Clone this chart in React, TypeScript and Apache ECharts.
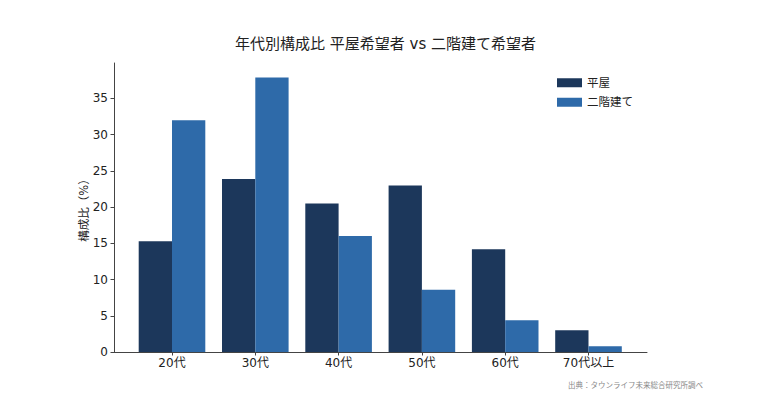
import React, { useEffect, useRef } from "react";
import * as echarts from "echarts";

const categories = ["20代", "30代", "40代", "50代", "60代", "70代以上"];
const hiraya = [15.3, 23.9, 20.5, 23.0, 14.2, 3.0];
const nikai = [32.0, 37.9, 16.0, 8.6, 4.4, 0.8];
const seriesNames = ["平屋", "二階建て"];
const titleText = "年代別構成比 平屋希望者 vs 二階建て希望者";
const yName = "構成比（%）";
const sourceText = "出典：タウンライフ未来総合研究所調べ";

const FONT = "DejaVu Sans, 'Noto Sans CJK JP', sans-serif";
const C1 = "#1c375b";
const C2 = "#2e6aa9";

export default function App() {
  const ref = useRef<HTMLDivElement>(null);
  useEffect(() => {
    const chart = echarts.init(ref.current!, null, { renderer: "svg" });
    const yMax = 39.9;
    chart.setOption({
      animation: false,
      backgroundColor: "#ffffff",
      textStyle: { fontFamily: FONT },
      title: [
        {
          text: titleText,
          left: 380.5,
          textAlign: "center",
          top: 31,
          textStyle: { fontFamily: FONT, fontSize: 15, fontWeight: "normal", color: "#222" },
        },
        {
          text: sourceText,
          left: 563,
          top: 377,
          textStyle: { fontFamily: FONT, fontSize: 7.5, fontWeight: "normal", color: "#888" },
        },
      ],
      legend: {
        orient: "vertical",
        left: 552,
        top: 72,
        itemWidth: 25,
        itemHeight: 9,
        itemGap: 8,
        icon: "rect",
        textStyle: { fontFamily: FONT, fontSize: 11.5, color: "#222", padding: [0, 0, 0, 0] },
        data: seriesNames,
      },
      grid: [
        { left: 114, right: 135, top: 63, bottom: 50, containLabel: false },
        { left: 130.35, right: 151.85, top: 63, bottom: 50, containLabel: false },
      ],
      xAxis: [
        {
          gridIndex: 0,
          type: "value",
          min: 0,
          max: 1,
          axisLine: { show: true, onZero: false, lineStyle: { color: "#444", width: 1 } },
          axisTick: { show: false },
          axisLabel: { show: false },
          splitLine: { show: false },
        },
        {
          gridIndex: 1,
          type: "category",
          data: categories,
          axisLine: { show: false },
          axisTick: { show: true, alignWithLabel: true, length: 3.5, lineStyle: { color: "#444" } },
          axisLabel: { fontFamily: FONT, fontSize: 12, color: "#222", margin: 5 },
          splitLine: { show: false },
        },
      ],
      yAxis: [
        {
          gridIndex: 0,
          type: "value",
          min: 0,
          max: yMax,
          interval: 5,
          name: yName,
          nameLocation: "middle",
          nameGap: 24,
          nameMoveOverlap: false,
          nameTextStyle: { fontFamily: FONT, fontSize: 11.5, color: "#222" },
          axisLine: { show: true, lineStyle: { color: "#444", width: 1 } },
          axisTick: { show: true, length: 3.5, lineStyle: { color: "#444" } },
          axisLabel: {
            fontFamily: FONT,
            fontSize: 12,
            color: "#222",
            margin: 6,
            showMaxLabel: false,
            formatter: (v: number) => (v % 5 === 0 ? String(v) : ""),
          },
          splitLine: { show: false },
        },
        {
          gridIndex: 1,
          type: "value",
          min: 0,
          max: yMax,
          interval: 5,
          show: false,
          splitLine: { show: false },
        },
      ],
      series: [
        {
          name: seriesNames[0],
          type: "bar",
          xAxisIndex: 1,
          yAxisIndex: 1,
          data: hiraya,
          barWidth: 33.3,
          barGap: "0%",
          itemStyle: { color: C1 },
        },
        {
          name: seriesNames[1],
          type: "bar",
          xAxisIndex: 1,
          yAxisIndex: 1,
          data: nikai,
          barWidth: 33.3,
          barGap: "0%",
          itemStyle: { color: C2 },
        },
      ],
    });
    return () => chart.dispose();
  }, []);
  return <div ref={ref} style={{ width: 782, height: 402, margin: -8 }} />;
}
